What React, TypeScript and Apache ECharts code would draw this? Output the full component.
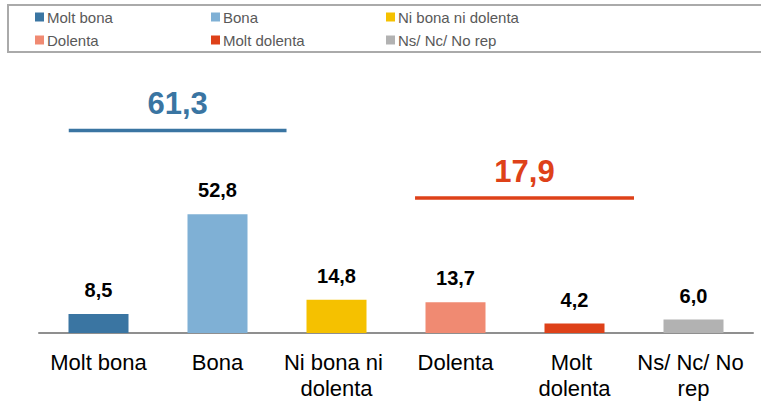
import React, { useEffect, useRef } from "react";
import * as echarts from "echarts";

const categories = ["Molt bona", "Bona", "Ni bona ni dolenta", "Dolenta", "Molt dolenta", "Ns/ Nc/ No rep"];
const values = [8.5, 52.8, 14.8, 13.7, 4.2, 6.0];
const colors = ["#3A75A2", "#7FB0D5", "#F5C100", "#F08A72", "#DE4119", "#B2B2B2"];

// group totals drawn as a line with the total above it
const groupTotals = [61.3, 17.9];
const groupLevels = [90, 60];
const groupStart = [-0.25, 2.66];
const groupEnd = [1.58, 4.5];
const groupColors = ["#3A75A2", "#DE4119"];

const legendColumns = [
  ["Molt bona", "Dolenta"],
  ["Bona", "Molt dolenta"],
  ["Ni bona ni dolenta", "Ns/ Nc/ No rep"],
];

const fmt = (v: number) => v.toFixed(1).replace(".", ",");
const FONT = "Liberation Sans, Arial, sans-serif";

export default function App() {
  const ref = useRef<HTMLDivElement>(null);
  useEffect(() => {
    document.body.style.margin = "0";
    const chart = echarts.init(ref.current!, undefined, { renderer: "svg" });

    const barSeries = categories.map((name, i) => ({
      name,
      type: "bar",
      stack: "all",
      barWidth: 60,
      itemStyle: { color: colors[i] },
      data: values.map((v, j) => (j === i ? v : "-")),
      label: {
        show: true,
        position: "top",
        distance: 14,
        formatter: (p: any) => fmt(p.value),
        fontFamily: FONT,
        fontWeight: "bold",
        fontSize: 20,
        color: "#000",
      },
    }));

    const groupData = groupTotals.map((t, i) => [0, groupLevels[i], t, groupStart[i], groupEnd[i], i]);

    const legendX = [35, 211, 386];

    chart.setOption({
      animation: false,
      legend: legendColumns.map((col, i) => ({
        orient: "vertical",
        left: legendX[i],
        top: 9,
        padding: 0,
        itemWidth: 9,
        itemHeight: 9,
        itemGap: 7,
        icon: "rect",
        selectedMode: false,
        data: col,
        textStyle: { fontFamily: FONT, fontSize: 15, color: "#595959", lineHeight: 16, padding: [0, 0, 0, -2] },
      })),
      graphic: [
        {
          type: "rect",
          shape: { x: 8, y: 5, width: 790, height: 47 },
          style: { fill: "none", stroke: "#AAAAAA", lineWidth: 2 },
          silent: true,
        },
      ],
      grid: { left: 39, right: 8, top: 63, bottom: 70 },
      xAxis: {
        type: "category",
        data: categories,
        axisLine: { lineStyle: { color: "#8F8F8F", width: 2 } },
        axisTick: { show: false },
        axisLabel: {
          interval: 0,
          margin: 16,
          width: 114,
          overflow: "break",
          fontFamily: FONT,
          fontSize: 22,
          lineHeight: 26,
          color: "#000",
        },
      },
      yAxis: {
        type: "value",
        min: 0,
        max: 120,
        show: false,
        splitLine: { show: false },
      },
      series: [
        ...barSeries,
        {
          type: "custom",
          silent: true,
          clip: false,
          encode: { x: 0, y: 1 },
          data: groupData,
          renderItem: (params: any, api: any) => {
            const level = api.value(1);
            const total = api.value(2);
            const s = api.value(3);
            const e = api.value(4);
            const idx = api.value(5);
            const base = api.coord([0, level]);
            const band = api.size([1, 0])[0];
            const x1 = base[0] + s * band;
            const x2 = base[0] + e * band;
            const y = base[1];
            const color = groupColors[idx];
            return {
              type: "group",
              children: [
                {
                  type: "line",
                  shape: { x1, y1: y, x2, y2: y },
                  style: { stroke: color, lineWidth: 3.5 },
                },
                {
                  type: "text",
                  x: (x1 + x2) / 2,
                  y: y - 27,
                  style: {
                    text: fmt(total),
                    fill: color,
                    font: `bold 31px ${FONT}`,
                    align: "center",
                    verticalAlign: "middle",
                  },
                },
              ],
            };
          },
        },
      ],
    });
    return () => chart.dispose();
  }, []);
  return <div ref={ref} style={{ width: 761, height: 403 }} />;
}
